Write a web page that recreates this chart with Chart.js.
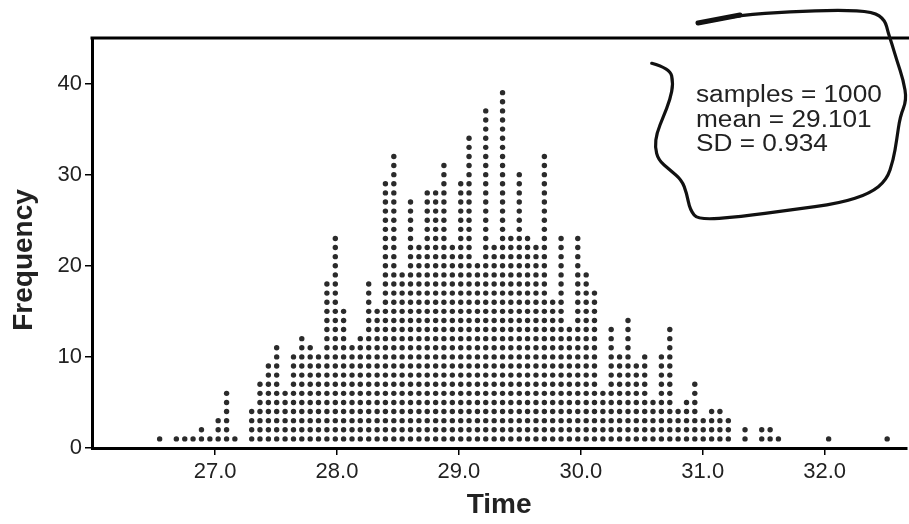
<!DOCTYPE html>
<html>
<head>
<meta charset="utf-8">
<script src="https://cdn.jsdelivr.net/npm/chart.js@4.4.1/dist/chart.umd.min.js"></script>
<style>
  html, body { margin: 0; padding: 0; background: #fff; }
</style>
</head>
<body>
<canvas id="dotPlot" width="909" height="524"></canvas>
<script>
// Stacked dot plot: one dot per sample, dots in a column = frequency at that time
const times = [
  26.545, 26.682, 26.751, 26.819, 26.888, 26.957, 27.025, 27.094, 27.162,
  27.300, 27.368, 27.437, 27.505, 27.574, 27.643, 27.711, 27.780, 27.848, 27.917,
  27.986, 28.054, 28.123, 28.191, 28.260, 28.329, 28.397, 28.466, 28.534, 28.603,
  28.672, 28.740, 28.809, 28.877, 28.946, 29.015, 29.083, 29.152, 29.220, 29.289,
  29.358, 29.426, 29.495, 29.563, 29.632, 29.701, 29.769, 29.838, 29.906, 29.975,
  30.044, 30.112, 30.181, 30.249, 30.318, 30.387, 30.455, 30.524, 30.592, 30.661,
  30.730, 30.798, 30.867, 30.935, 31.004, 31.073, 31.141, 31.210, 31.347,
  31.484, 31.553, 31.621, 32.033, 32.513
];
const counts = [
  1, 1, 1, 1, 2, 1, 3, 6, 1,
  4, 7, 9, 11, 6, 10, 12, 11, 10, 18,
  23, 15, 11, 12, 18, 15, 29, 32, 19, 27,
  22, 28, 28, 31, 22, 29, 34, 20, 37, 22,
  39, 23, 30, 23, 22, 32, 16, 23, 13, 23,
  19, 17, 6, 13, 10, 14, 9, 10, 5, 10,
  13, 4, 5, 7, 3, 4, 4, 3, 2,
  2, 2, 1, 1, 1
];
const xTicks = [27, 28, 29, 30, 31, 32];
const yTicks = [0, 10, 20, 30, 40];
const statLines = ['samples = 1000', 'mean = 29.101', 'SD = 0.934'];

const FONT = "'Liberation Sans', Arial, Helvetica, sans-serif";

// expand each column into stacked points
const dots = [];
times.forEach((t, i) => {
  for (let j = 1; j <= counts[i]; j++) dots.push({ x: t, y: j });
});

// hand drawn loop round the summary text (canvas pixels)
const loopPath = [
  [651.7, 63.3], [670, 68.3], [673.3, 83.3], [670, 100], [663.3, 116.7],
  [656.7, 133.3], [655, 146.7], [658.3, 160], [670, 170], [681.7, 180],
  [686.7, 193.3], [690, 210], [698.3, 220], [740, 216.7], [790, 210],
  [840, 203.3], [870, 193.3], [886.7, 180], [893.3, 160], [896.7, 140],
  [900, 116.7], [906.7, 100], [903.3, 80], [896.7, 60], [891.7, 43.3],
  [888.3, 33.3], [885, 20], [873.3, 11.7], [840, 10], [790, 11.7],
  [740, 15], [698.3, 23.3]
];

const extras = {
  id: 'extras',
  afterDraw(chart) {
    const { ctx, chartArea } = chart;
    ctx.save();
    // top frame line
    ctx.strokeStyle = '#000';
    ctx.lineWidth = 3;
    ctx.beginPath();
    ctx.moveTo(chartArea.left - 1.5, chartArea.top);
    ctx.lineTo(909, chartArea.top);
    ctx.stroke();

    // y axis title
    ctx.save();
    ctx.translate(24, 260);
    ctx.rotate(-Math.PI / 2);
    ctx.font = 'bold 28px ' + FONT;
    ctx.fillStyle = '#222';
    ctx.textAlign = 'center';
    ctx.textBaseline = 'middle';
    ctx.fillText('Frequency', 0, 0);
    ctx.restore();

    // summary note (the scanned text is a bit wider than Arial)
    ctx.save();
    ctx.translate(696, 0);
    ctx.scale(1.14, 1);
    ctx.font = '23px ' + FONT;
    ctx.fillStyle = '#222';
    ctx.textAlign = 'left';
    ctx.textBaseline = 'alphabetic';
    statLines.forEach((s, i) => ctx.fillText(s, 0, 102 + i * 24.5));
    ctx.restore();

    // the loop
    ctx.strokeStyle = '#111';
    ctx.lineWidth = 3.2;
    ctx.lineCap = 'round';
    ctx.lineJoin = 'round';
    ctx.beginPath();
    ctx.moveTo(loopPath[0][0], loopPath[0][1]);
    for (let i = 1; i < loopPath.length - 1; i++) {
      const mx = (loopPath[i][0] + loopPath[i + 1][0]) / 2;
      const my = (loopPath[i][1] + loopPath[i + 1][1]) / 2;
      ctx.quadraticCurveTo(loopPath[i][0], loopPath[i][1], mx, my);
    }
    const last = loopPath[loopPath.length - 1];
    ctx.lineTo(last[0], last[1]);
    ctx.stroke();
    // heavier start of the top stroke
    ctx.lineWidth = 5;
    ctx.beginPath();
    ctx.moveTo(698, 23);
    ctx.lineTo(740, 15);
    ctx.stroke();
    ctx.restore();
  }
};

const ctx = document.getElementById('dotPlot').getContext('2d');
const dotPlot = new Chart(ctx, {
  type: 'scatter',
  data: {
    datasets: [{
      data: dots,
      pointRadius: 2.7,
      pointHoverRadius: 2.7,
      pointBackgroundColor: '#2b2b2b',
      pointBorderWidth: 0
    }]
  },
  options: {
    responsive: false,
    animation: false,
    devicePixelRatio: 1,
    layout: { padding: { top: 38, left: 0, right: 0, bottom: 0 } },
    plugins: { legend: { display: false }, tooltip: { enabled: false } },
    scales: {
      x: {
        type: 'linear',
        min: 25.99,
        max: 32.67,
        afterBuildTicks: s => { s.ticks = xTicks.map(v => ({ value: v })); },
        afterFit: s => { s.height = 76; },
        ticks: {
          callback: v => v.toFixed(1),
          font: { family: FONT, size: 22 },
          color: '#222',
          padding: 4,
          maxRotation: 0,
          autoSkip: false
        },
        grid: { display: true, drawOnChartArea: false, tickLength: 7, color: '#000', lineWidth: 1.5 },
        border: { display: true, color: '#000', width: 3 },
        title: {
          display: true,
          text: 'Time',
          font: { family: FONT, size: 28, weight: 'bold' },
          color: '#222',
          padding: { top: 0, bottom: 2 }
        }
      },
      y: {
        min: 0,
        max: 45,
        afterBuildTicks: s => { s.ticks = yTicks.map(v => ({ value: v })); },
        afterFit: s => { s.width = 92; },
        ticks: {
          font: { family: FONT, size: 22 },
          color: '#222',
          padding: 3
        },
        grid: { display: true, drawOnChartArea: false, tickLength: 7, color: '#000', lineWidth: 1.5 },
        border: { display: true, color: '#000', width: 3 }
      }
    }
  },
  plugins: [extras]
});
</script>
</body>
</html>
